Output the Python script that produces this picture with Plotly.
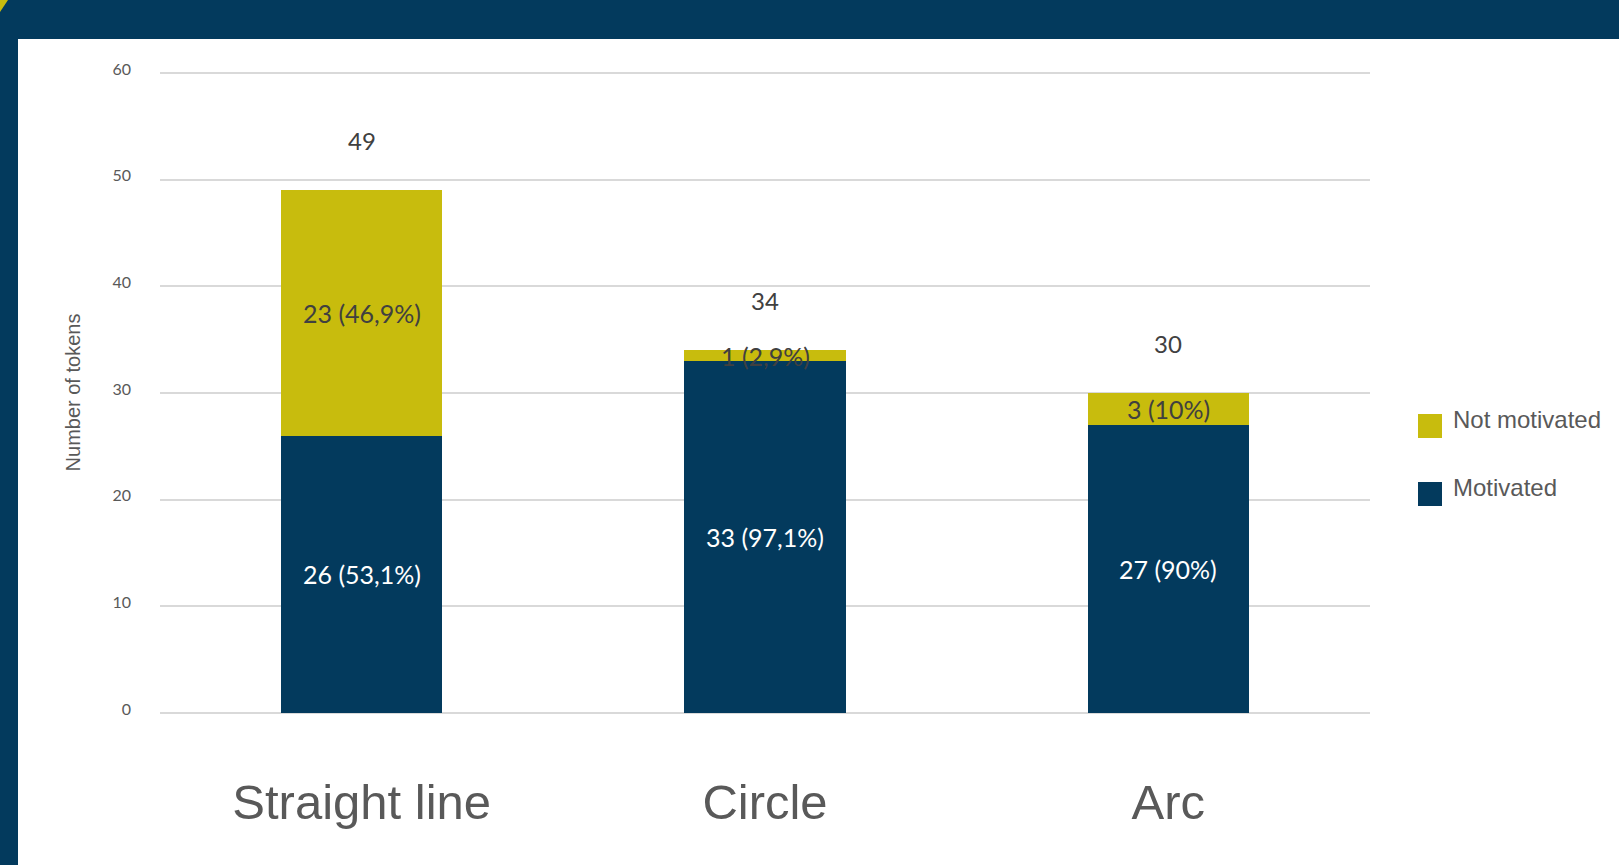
import plotly.graph_objects as go

# Token counts per trajectory shape
categories = ["Straight line", "Circle", "Arc"]
motivated = [26, 33, 27]
not_motivated = [23, 1, 3]
motivated_pct = ["53,1%", "97,1%", "90%"]
not_motivated_pct = ["46,9%", "2,9%", "10%"]
totals = [m + n for m, n in zip(motivated, not_motivated)]

y_ticks = [0, 10, 20, 30, 40, 50, 60]

NAVY = "#033A5D"
OLIVE = "#C8BC0D"
GREY = "#595959"

W, H = 1619, 865
ML, MR, MT, MB = 160, 249, 72, 152
PW, PH = W - ML - MR, H - MT - MB


def px_x(px):
    return (px - ML) / PW


def px_y(py):
    return (H - MB - py) / PH


fig = go.Figure()
fig.add_trace(go.Bar(x=categories, y=motivated, name="Motivated",
                     marker=dict(color=NAVY, line=dict(width=0)), width=0.4))
fig.add_trace(go.Bar(x=categories, y=not_motivated, name="Not motivated",
                     marker=dict(color=OLIVE, line=dict(width=0)), width=0.4))

annotations = []
label_font = "Lato, 'Open Sans', sans-serif"
for i, cat in enumerate(categories):
    annotations.append(dict(x=cat, y=motivated[i] / 2, xref="x", yref="y",
                            text=f"{motivated[i]} ({motivated_pct[i]})", showarrow=False,
                            font=dict(family=label_font, size=25, color="white")))
    annotations.append(dict(x=cat, y=motivated[i] + not_motivated[i] / 2, xref="x", yref="y",
                            text=f"{not_motivated[i]} ({not_motivated_pct[i]})", showarrow=False,
                            font=dict(family=label_font, size=25, color="#404040")))
    annotations.append(dict(x=cat, y=totals[i], xref="x", yref="y", yshift=50,
                            text=str(totals[i]), showarrow=False,
                            font=dict(family=label_font, size=24, color="#404040")))

# Legend drawn as swatches with labels
shapes = []
legend_items = [("Not motivated", OLIVE, 426), ("Motivated", NAVY, 494)]
for name, color, cy in legend_items:
    shapes.append(dict(type="rect", xref="paper", yref="paper",
                       x0=px_x(1418), x1=px_x(1442), y0=px_y(cy + 12), y1=px_y(cy - 12),
                       fillcolor=color, line=dict(width=0)))
    annotations.append(dict(x=px_x(1451), y=px_y(cy - 7), xref="paper", yref="paper",
                            xanchor="left", yanchor="middle", text=name, showarrow=False,
                            font=dict(family="Liberation Sans, Arial, sans-serif", size=24, color=GREY)))

# Slide frame: top band, left band and corner accent
shapes.append(dict(type="rect", xref="paper", yref="paper", layer="above",
                   x0=px_x(0), x1=px_x(W), y0=px_y(39), y1=px_y(0),
                   fillcolor=NAVY, line=dict(width=0)))
shapes.append(dict(type="rect", xref="paper", yref="paper", layer="above",
                   x0=px_x(0), x1=px_x(18), y0=px_y(H), y1=px_y(0),
                   fillcolor=NAVY, line=dict(width=0)))
shapes.append(dict(type="path", xref="paper", yref="paper", layer="above",
                   path=f"M {px_x(0)},{px_y(0)} L {px_x(8)},{px_y(0)} L {px_x(0)},{px_y(12)} Z",
                   fillcolor=OLIVE, line=dict(width=0)))

fig.update_layout(
    width=W, height=H,
    margin=dict(l=ML, r=MR, t=MT, b=MB),
    barmode="stack",
    showlegend=False,
    plot_bgcolor="white",
    paper_bgcolor="white",
    annotations=annotations,
    shapes=shapes,
    xaxis=dict(range=[-0.5, 2.5], showgrid=False, showline=False, ticks="",
               tickfont=dict(family="Liberation Sans, Arial, sans-serif", size=49, color=GREY),
               ticklabelstandoff=56, fixedrange=True),
    yaxis=dict(range=[0, 60.1], tickvals=y_ticks, showgrid=True, gridcolor="#D9D9D9", gridwidth=1.5,
               zeroline=True, zerolinecolor="#D9D9D9", zerolinewidth=1.5, showline=False,
               tickfont=dict(family=label_font, size=16, color=GREY), ticklabelstandoff=28,
               ticklabelshift=-4,
               title=dict(text="Number of tokens", standoff=26,
                          font=dict(family="Liberation Sans, Arial, sans-serif", size=20, color=GREY)),
               fixedrange=True),
)

fig.write_html("out.html")
